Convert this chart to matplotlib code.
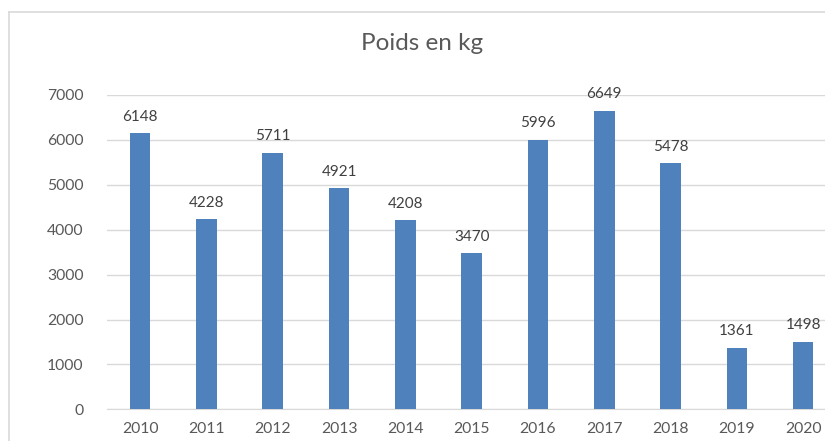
import matplotlib.pyplot as plt
from matplotlib.lines import Line2D

years = ['2010', '2011', '2012', '2013', '2014', '2015', '2016', '2017', '2018', '2019', '2020']
poids = [6148, 4228, 5711, 4921, 4208, 3470, 5996, 6649, 5478, 1361, 1498]

plt.rcParams['font.family'] = ['Lato', 'DejaVu Sans']
txt = '#595959'
grid = '#D9D9D9'

fig = plt.figure(figsize=(8.25, 4.41), dpi=100)
ax = fig.add_axes([107 / 825, 31.7 / 441, 729.3 / 825, 314.3 / 441])

x = range(len(years))
bars = ax.bar(x, poids, width=0.31, color='#4F81BD', zorder=3)
for xi, v in zip(x, poids):
    ax.annotate(str(v), (xi, v), xytext=(0, 7), textcoords='offset points',
                ha='center', va='bottom', fontsize=11, color='#404040')

ax.set_xlim(-0.5, len(years) - 0.5)
ax.set_ylim(0, 7000)
ax.set_yticks(range(0, 7001, 1000))
ax.set_xticks(list(x))
ax.set_xticklabels(years)
ax.tick_params(axis='both', length=0, labelsize=11.3, labelcolor=txt)
ax.tick_params(axis='y', pad=17)
ax.tick_params(axis='x', pad=9)
ax.grid(axis='y', color=grid, linewidth=1, zorder=0)
for s in ax.spines.values():
    s.set_visible(False)
ax.spines['bottom'].set_visible(True)
ax.spines['bottom'].set_color(grid)

fig.text(422 / 825, 1 - 44 / 441, 'Poids en kg', ha='center', va='center',
         fontsize=17.5, color=txt)

# cadre du graphique (coupe a droite et en bas)
fig.add_artist(Line2D([8.5 / 825, 8.5 / 825], [0, 1 - 12 / 441], color=grid, lw=1.2))
fig.add_artist(Line2D([8.5 / 825, 1], [1 - 12 / 441, 1 - 12 / 441], color=grid, lw=1.2))

fig.savefig('out.png', dpi=100)
